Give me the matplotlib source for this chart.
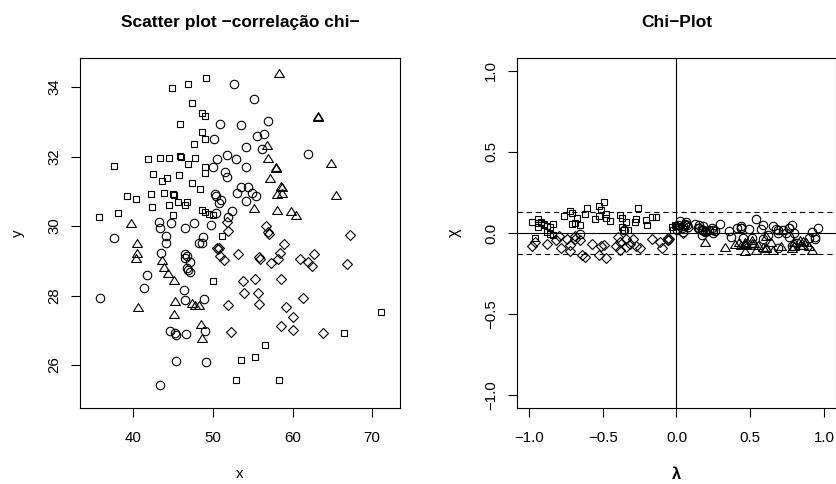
import numpy as np
import matplotlib
matplotlib.use("Agg")
import matplotlib.pyplot as plt
from matplotlib.path import Path
from matplotlib.ticker import FuncFormatter

plt.rcParams['font.family'] = ['Liberation Sans', 'DejaVu Sans']

# ---------------- data ----------------
sq_x = [49.13, 46.83, 44.82, 47.33, 48.58, 49.00, 45.86, 48.67, 49.00, 47.58,
        37.57, 41.80, 43.39, 44.52, 45.86, 45.95, 47.79, 46.91, 49.00, 49.00,
        42.51, 43.56, 44.19, 45.78, 47.33, 48.38, 39.16, 40.33, 42.18, 43.85,
        45.03, 45.12, 42.30, 44.48, 45.65, 46.78, 46.48, 48.58, 49.00, 49.50,
        50.04, 45.03, 35.69, 38.03, 51.14, 50.05, 56.54, 53.48, 55.24, 52.94,
        58.30, 66.50, 71.13]
sq_y = [34.26, 34.08, 33.99, 33.54, 33.27, 33.18, 32.94, 32.70, 32.50, 32.36,
        31.73, 31.92, 31.95, 31.97, 32.03, 31.99, 31.96, 31.78, 31.71, 31.54,
        31.49, 31.31, 31.39, 31.48, 31.23, 31.06, 30.88, 30.77, 30.92, 30.94,
        30.92, 30.89, 30.56, 30.61, 30.70, 30.68, 30.61, 30.46, 30.41, 30.35,
        30.32, 30.32, 30.25, 30.38, 29.71, 28.42, 26.57, 26.13, 26.22, 25.57,
        25.56, 26.92, 27.52]

ci_x = [52.69, 55.12, 50.85, 53.53, 56.96, 55.58, 56.41, 50.09, 54.15, 56.12,
        61.90, 50.55, 51.73, 52.86, 49.97, 51.47, 51.77, 54.15, 53.53, 54.45,
        52.98, 54.95, 55.37, 54.15, 50.30, 50.40, 51.05, 50.70, 50.34, 52.40,
        51.85, 43.27, 43.35, 44.73, 44.10, 46.49, 47.62, 49.72, 48.80, 37.57,
        48.25, 48.63, 43.43, 44.06, 46.50, 46.70, 46.45, 47.12, 46.70, 47.10,
        46.90, 41.68, 41.39, 35.81, 46.37, 46.49, 48.89, 48.96, 44.60, 45.23,
        45.30, 46.60, 45.36, 49.09, 43.35]
ci_y = [34.09, 33.67, 32.94, 32.91, 33.04, 32.59, 32.65, 32.50, 32.27, 32.21,
        32.07, 31.93, 32.05, 31.93, 31.71, 31.57, 31.42, 31.71, 31.13, 31.13,
        30.96, 30.94, 30.86, 30.73, 30.93, 30.87, 30.74, 30.65, 30.38, 30.43,
        30.25, 30.12, 29.93, 30.10, 29.71, 29.93, 30.08, 30.03, 29.69, 29.66,
        29.52, 29.50, 29.21, 29.50, 29.20, 29.15, 29.08, 28.97, 28.78, 28.68,
        28.73, 28.59, 28.21, 27.93, 28.16, 27.87, 27.89, 26.97, 26.97, 26.91,
        26.86, 26.88, 26.12, 26.09, 25.41]

tr_x = [58.34, 63.16, 63.22, 56.75, 56.96, 57.92, 57.98, 57.17, 64.79, 58.55,
        58.62, 58.01, 58.68, 65.42, 55.16, 58.01, 59.81, 60.39, 39.71, 40.44,
        40.44, 40.30, 43.56, 43.85, 44.40, 45.15, 40.54, 45.23, 45.10, 47.33,
        47.75, 48.30, 48.46, 48.67]
tr_y = [34.40, 33.18, 33.15, 32.33, 31.95, 31.71, 31.68, 31.37, 31.81, 31.16,
        31.12, 30.92, 30.96, 30.89, 30.51, 30.46, 30.44, 30.32, 30.08, 29.52,
        29.21, 29.07, 29.02, 28.83, 28.64, 28.46, 27.66, 27.85, 27.48, 27.77,
        27.72, 27.72, 27.19, 26.79]

di_x = [51.81, 51.93, 56.70, 56.90, 57.05, 67.24, 50.45, 50.60, 50.75, 50.89,
        51.43, 53.14, 55.73, 55.94, 57.28, 58.16, 58.45, 58.95, 60.96, 61.92,
        62.50, 62.75, 66.82, 53.77, 55.32, 58.58, 53.93, 55.65, 55.82, 51.93,
        61.27, 59.21, 60.04, 58.58, 60.04, 63.81, 52.23]
di_y = [30.12, 29.87, 30.00, 29.83, 29.78, 29.73, 29.38, 29.33, 29.36, 29.14,
        29.02, 29.20, 29.10, 29.04, 28.94, 29.04, 29.22, 29.49, 29.04, 28.96,
        28.84, 29.20, 28.91, 28.41, 28.48, 28.48, 28.07, 28.08, 27.76, 27.72,
        27.93, 27.67, 27.38, 27.12, 27.01, 26.92, 26.96]

scatter_title = "Scatter plot \u2212correla\u00e7\u00e3o chi\u2212"
chi_title = "Chi\u2212Plot"
x_ticks = [40, 50, 60, 70]
y_ticks = [26, 28, 30, 32, 34]
chi_ticks = [-1.0, -0.5, 0.0, 0.5, 1.0]

# ---------------- markers mimicking R pch 0, 1, 2, 5 ----------------
tri = Path([(0, 0.8), (-1, -0.8), (1, -0.8), (0, 0.8)],
           [Path.MOVETO, Path.LINETO, Path.LINETO, Path.CLOSEPOLY])
groups = [
    (sq_x, sq_y, dict(marker='s', ms=5.0)),
    (ci_x, ci_y, dict(marker='o', ms=6.1)),
    (tr_x, tr_y, dict(marker=tri, ms=7.1)),
    (di_x, di_y, dict(marker='D', ms=4.7)),
]
mk_common = dict(ls='none', mfc='none', mec='black', mew=0.8)

W, H = 837, 484
fig = plt.figure(figsize=(W / 100, H / 100), dpi=100)


def rect(l, r, t, b):
    return [l / W, 1 - b / H, (r - l) / W, (b - t) / H]


FS = 10.8
TFS = 12.5


def r_style(ax):
    for s in ax.spines.values():
        s.set_linewidth(0.8)
    ax.tick_params(direction='out', length=6.7, width=0.8, labelsize=FS,
                   top=False, right=False)
    ax.tick_params(axis='x', pad=10)
    ax.tick_params(axis='y', pad=7)
    for lab in ax.get_yticklabels():
        lab.set_rotation(90)
        lab.set_va('center')


# ---------------- left: scatter ----------------
ax1 = fig.add_axes(rect(80, 400, 58, 408))
for gx, gy, st in groups:
    ax1.plot(gx, gy, **st, **mk_common)
ax1.set_xlim(33.3, 73.5)
ax1.set_ylim(24.76, 34.84)
ax1.set_xticks(x_ticks)
ax1.set_yticks(y_ticks)
r_style(ax1)
ax1.set_xlabel('x', fontsize=FS, labelpad=16)
ax1.set_ylabel('y', fontsize=FS, labelpad=16)
ax1.set_title(scatter_title, fontsize=TFS, fontweight='bold', pad=22)

# ---------------- right: chi-plot computed from the data ----------------
all_x = np.concatenate([np.asarray(g[0], float) for g in groups])
all_y = np.concatenate([np.asarray(g[1], float) for g in groups])
gid = np.concatenate([np.full(len(g[0]), k) for k, g in enumerate(groups)])
n = len(all_x)
F = np.empty(n); G = np.empty(n); Hh = np.empty(n)
for i in range(n):
    m = np.arange(n) != i
    bx = all_x[m] <= all_x[i]
    by = all_y[m] <= all_y[i]
    F[i] = bx.sum() / (n - 1)
    G[i] = by.sum() / (n - 1)
    Hh[i] = (bx & by).sum() / (n - 1)
S = np.sign((F - 0.5) * (G - 0.5))
with np.errstate(divide='ignore', invalid='ignore'):
    chi = (Hh - F * G) / np.sqrt(F * (1 - F) * G * (1 - G))
lam = 4 * S * np.maximum((F - 0.5) ** 2, (G - 0.5) ** 2)
keep = np.abs(lam) < 4 * (1 / (n - 1) - 0.5) ** 2
ctrl = 1.78 / np.sqrt(n)

ax2 = fig.add_axes(rect(517, 836, 58, 408))
for k, (_, _, st) in enumerate(groups):
    sel = keep & (gid == k)
    ax2.plot(lam[sel], chi[sel], **st, **mk_common)
ax2.axhline(0, color='black', lw=0.8)
ax2.axvline(0, color='black', lw=0.8)
for c in (ctrl, -ctrl):
    ax2.axhline(c, color='black', lw=0.8, ls=(0, (4.8, 3.4)))
ax2.set_xlim(-1.08, 1.08)
ax2.set_ylim(-1.08, 1.08)
ax2.set_xticks(chi_ticks)
ax2.set_yticks(chi_ticks)
fmt = FuncFormatter(lambda v, p: ("%.1f" % (0.0 if abs(v) < 1e-9 else v)).replace('-', '\u2212'))
ax2.xaxis.set_major_formatter(fmt)
ax2.yaxis.set_major_formatter(fmt)
r_style(ax2)
ax2.set_xlabel('\u03bb', fontsize=FS + 1, fontweight='bold', labelpad=16)
ax2.set_ylabel('\u03c7', fontsize=FS + 1, labelpad=16)
ax2.set_title(chi_title, fontsize=TFS, fontweight='bold', pad=22)

fig.savefig('out.png', dpi=100)
